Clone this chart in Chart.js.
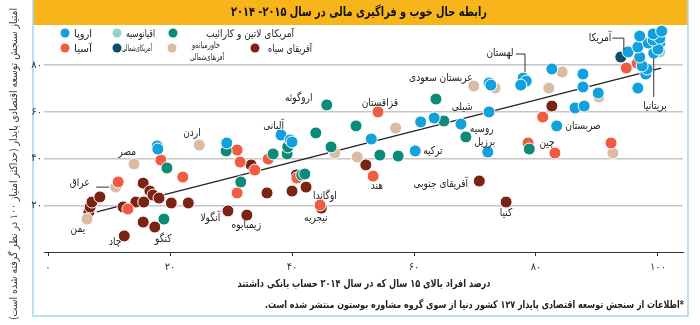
<!DOCTYPE html>
<html lang="fa">
<head>
<meta charset="utf-8">
<script src="https://cdn.jsdelivr.net/npm/chart.js@4"></script>
<style>
  body { margin: 0; background: #fff; }
  #wrap { width: 700px; height: 325px; }
</style>
</head>
<body>
<div id="wrap"><canvas id="chart" width="700" height="325"></canvas></div>
<script>
const FONT = "'DejaVu Sans', sans-serif";

// [درصد دارای حساب بانکی, امتیاز SEDA]
const europe = [
  [17.9, 45.4], [18.0, 44.1], [29.3, 46.7], [38.2, 50.1], [39.7, 48.0], [40.0, 47.1],
  [53.0, 48.4], [60.2, 43.3], [61.1, 55.7], [63.3, 57.4], [67.7, 54.8], [72.1, 42.8],
  [72.3, 60.0], [72.3, 72.4], [72.6, 71.5], [77.9, 74.5], [78.4, 73.2], [77.5, 71.5],
  [82.6, 78.4], [87.7, 76.2], [87.7, 70.7], [83.4, 54.0], [86.4, 61.7], [87.9, 62.5],
  [90.2, 68.1], [96.7, 70.2], [98.0, 76.2], [98.2, 78.4], [97.4, 79.7], [97.0, 83.5],
  [99.3, 85.2], [95.1, 85.7], [96.7, 87.8], [98.4, 89.5], [100.3, 89.5], [100.0, 86.9],
  [99.2, 90.8], [100.3, 91.6], [97.0, 92.5], [99.2, 93.4], [100.6, 94.6]
];
const oceania = [[99.5, 87.8], [100.3, 85.7]];
const northAmerica = [[93.9, 83.5]];
const latinAmerica = [
  [19.5, 36.0], [19.0, 14.1], [29.2, 43.3], [31.6, 30.0], [36.9, 42.0], [39.2, 42.0],
  [39.3, 45.0], [43.9, 51.0], [45.7, 63.0], [46.4, 45.0], [41.6, 33.0], [42.1, 33.4],
  [50.5, 54.0], [54.4, 41.5], [57.4, 41.1], [63.6, 65.5], [64.9, 56.1], [68.5, 49.3],
  [78.9, 44.1]
];
const asia = [
  [11.5, 30.0], [13.1, 18.4], [18.5, 39.4], [22.1, 32.1], [31.0, 43.7], [31.5, 38.5],
  [33.9, 35.1], [31.0, 25.3], [36.1, 39.8], [40.8, 31.7], [44.6, 20.1], [54.1, 60.0],
  [53.3, 32.5], [81.1, 57.8], [78.7, 46.7], [83.1, 42.4], [92.3, 46.7], [94.8, 78.8],
  [96.6, 80.9]
];
const mena = [
  [6.4, 14.1], [11.1, 27.8], [14.1, 37.7], [24.8, 45.8], [47.0, 42.4], [50.7, 40.7],
  [57.0, 53.1], [69.8, 71.1], [73.3, 70.2], [82.1, 70.2], [84.3, 77.1], [90.3, 66.4],
  [92.6, 42.4]
];
const subSaharan = [
  [6.7, 17.1], [6.9, 19.3], [7.2, 21.4], [8.5, 23.6], [12.3, 19.3], [14.4, 21.4],
  [15.7, 21.4], [15.6, 29.5], [16.7, 26.1], [17.2, 24.4], [18.2, 23.1], [20.2, 21.0],
  [23.0, 21.0], [15.6, 12.8], [17.5, 10.7], [12.5, 6.9], [29.5, 17.6], [32.6, 15.8],
  [33.3, 37.3], [35.9, 25.3], [40.0, 26.1], [40.7, 33.0], [42.3, 27.8], [44.8, 18.8],
  [52.1, 37.3], [70.7, 30.4], [75.1, 21.4], [82.6, 62.5]
];

const trendX = [8, 100.5];
const trendY = [17.2, 78.8];

const xTicks = [0, 20, 40, 60, 80, 100];
const yTicks = [0, 20, 40, 60, 80];

// نام کشورها روی نمودار
const countryNames = [
  ['آمریکا', 90.5, 91.6], ['لهستان', 74.1, 85.2], ['عربستان سعودی', 64.4, 74.5],
  ['بریتانیا', 99.5, 62.5], ['شیلی', 67.9, 62.1], ['قزاقستان', 54.4, 63.8],
  ['اروگوئه', 41.1, 66.0], ['آلبانی', 37.0, 54.0], ['اردن', 23.6, 51.0],
  ['مصر', 13.0, 42.8], ['عراق', 5.2, 29.6], ['یمن', 4.9, 9.9], ['چاد', 11.0, 4.3],
  ['کنگو', 18.9, 5.6], ['آنگولا', 26.6, 14.6], ['زیمبابوه', 32.5, 11.6],
  ['نیجریه', 43.9, 14.6], ['اوگاندا', 45.4, 24.0], ['هند', 53.9, 28.3],
  ['ترکیه', 63.1, 43.3], ['روسیه', 71.1, 52.7], ['برزیل', 71.6, 47.1],
  ['صربستان', 87.7, 54.0], ['چین', 81.8, 46.7], ['آفریقای جنوبی', 64.4, 29.1],
  ['کنیا', 75.1, 16.7]
];
const leaders = [
  [[92.5, 91.6], [94.4, 91.6], [94.4, 86.5]],
  [[76.7, 84.8], [78.2, 84.8], [78.2, 77.1]],
  [[99.3, 83.1], [99.3, 66.4]],
  [[7.9, 27.8], [10.0, 27.8]]
];

const groups = [
  { label: 'اروپا', data: europe, color: '#12a1dd' },
  { label: 'اقیانوسیه', data: oceania, color: '#8fd4cd' },
  { label: 'آمریکای‌شمالی', data: northAmerica, color: '#0e4c69' },
  { label: 'آمریکای لاتین و کارائیب', data: latinAmerica, color: '#0e8b78' },
  { label: 'آسیا', data: asia, color: '#f15b40' },
  { label: 'خاورمیانه و آفریقای‌شمالی', data: mena, color: '#d9bca4' },
  { label: 'آفریقای سیاه', data: subSaharan, color: '#7b2414' }
];

const fa = n => String(n).replace(/\d/g, d => '۰۱۲۳۴۵۶۷۸۹'[d]);

// متن با عرض محدود (فشرده‌سازی افقی مثل فونت باریک مرجع)
function txt(ctx, s, x, y, size, align, weight, color, maxW) {
  ctx.font = (weight || 'normal') + ' ' + size + 'px ' + FONT;
  ctx.fillStyle = color || '#222';
  ctx.textAlign = align || 'center';
  ctx.textBaseline = 'middle';
  const w = maxW || ctx.measureText(s).width * 0.82;
  ctx.fillText(s, x, y, w);
}

const decor = {
  id: 'decor',
  beforeDraw(chart) {
    const ctx = chart.ctx;
    ctx.save();
    ctx.fillStyle = '#fff';
    ctx.fillRect(0, 0, 700, 325);
    ctx.fillStyle = '#f8b51b';
    ctx.fillRect(33, 0, 655, 25);
    ctx.strokeStyle = '#a6d6ec';
    ctx.lineWidth = 1.5;
    ctx.strokeRect(33, -2, 655, 318);
    ctx.direction = 'rtl';
    txt(ctx, 'رابطه حال خوب و فراگیری مالی در سال ۲۰۱۵- ۲۰۱۴', 359, 13, 13, 'center', 'bold', '#111', 256);
    ctx.restore();
  },
  afterDraw(chart) {
    const ctx = chart.ctx;
    const xs = chart.scales.x, ys = chart.scales.y;
    ctx.save();
    ctx.direction = 'rtl';

    // خطوط راهنما
    ctx.strokeStyle = '#333';
    ctx.lineWidth = 1;
    leaders.forEach(pts => {
      ctx.beginPath();
      pts.forEach((p, i) => {
        const px = xs.getPixelForValue(p[0]), py = ys.getPixelForValue(p[1]);
        if (i === 0) ctx.moveTo(px, py); else ctx.lineTo(px, py);
      });
      ctx.stroke();
    });

    countryNames.forEach(c => {
      txt(ctx, c[0], xs.getPixelForValue(c[1]), ys.getPixelForValue(c[2]), 11, 'center', 'normal', '#222');
    });

    // راهنما
    const legendItems = [
      [0, 65, 33, 92, 18], [1, 117, 33, 155, 29], [3, 173, 33, 294, 88],
      [4, 65, 48, 92, 18], [2, 117, 48, 152, 30], [6, 255, 48, 312, 44]
    ];
    legendItems.forEach(it => {
      const g = groups[it[0]];
      ctx.beginPath();
      ctx.arc(it[1], it[2], 4.5, 0, Math.PI * 2);
      ctx.fillStyle = g.color;
      ctx.fill();
      txt(ctx, g.label, it[3], it[2] + 1, it[4] > 29 && it[4] < 40 ? 9 : 10.5, 'right', 'normal', '#222', it[4]);
    });
    ctx.beginPath();
    ctx.arc(172, 48, 4.5, 0, Math.PI * 2);
    ctx.fillStyle = groups[5].color;
    ctx.fill();
    txt(ctx, 'خاورمیانه‌و', 220, 46, 9, 'right', 'normal', '#222', 28);
    txt(ctx, 'آفریقای‌شمالی', 224, 58, 9, 'right', 'normal', '#222', 34);

    // عنوان محورها و پانویس
    txt(ctx, 'درصد افراد بالای ۱۵ سال که در سال ۲۰۱۴ حساب بانکی داشتند', 364, 284, 11, 'center', 'bold', '#222', 253);
    txt(ctx, '*اطلاعات از سنجش توسعه اقتصادی پایدار ۱۲۷ کشور دنیا از سوی گروه مشاوره بوستون منتشر شده است.', 684, 305, 10.5, 'right', 'bold', '#222', 419);
    ctx.translate(14, 164);
    ctx.rotate(-Math.PI / 2);
    txt(ctx, 'امتیاز سنجش توسعه اقتصادی پایدار (حداکثر امتیاز ۱۰۰ در نظر گرفته شده است)', 0, 0, 10.5, 'center', 'normal', '#333', 312);
    ctx.restore();
  }
};

const datasets = groups.map(g => ({
  type: 'scatter',
  label: g.label,
  data: g.data.map(p => ({ x: p[0], y: p[1] })),
  backgroundColor: g.color,
  borderColor: '#fff',
  borderWidth: 1,
  pointRadius: 6,
  pointHoverRadius: 6,
  clip: false,
  order: 1
}));
datasets.push({
  type: 'line',
  label: 'trend',
  data: trendX.map((x, i) => ({ x: x, y: trendY[i] })),
  borderColor: '#222',
  borderWidth: 1.3,
  pointRadius: 0,
  fill: false,
  order: 10
});

new Chart(document.getElementById('chart'), {
  type: 'scatter',
  data: { datasets: datasets },
  options: {
    responsive: false,
    animation: false,
    layout: { padding: { left: 30, right: 17, top: 26, bottom: 53 } },
    plugins: { legend: { display: false }, tooltip: { enabled: false } },
    scales: {
      x: {
        type: 'linear',
        min: -0.66,
        max: 104.1,
        afterBuildTicks: s => { s.ticks = xTicks.map(v => ({ value: v })); },
        afterFit: s => { s.height = 20; },
        ticks: {
          autoSkip: false,
          maxRotation: 0,
          padding: 5,
          color: '#333',
          font: { size: 10, family: FONT },
          callback: v => fa(v)
        },
        grid: { drawOnChartArea: false, drawTicks: true, tickLength: 4, color: '#333' },
        border: { display: true, color: '#333', width: 1 }
      },
      y: {
        min: 0,
        max: 96.8,
        afterBuildTicks: s => { s.ticks = yTicks.map(v => ({ value: v })); },
        afterFit: s => { s.width = 14; },
        ticks: {
          padding: 2,
          color: '#333',
          font: { size: 10, family: FONT },
          callback: v => v === 0 ? '' : fa(v)
        },
        grid: {
          drawTicks: false,
          lineWidth: 1.5,
          color: c => c.tick && c.tick.value === 0 ? 'rgba(0,0,0,0)' : '#c6c6c6'
        },
        border: { display: false }
      }
    }
  },
  plugins: [decor]
});
</script>
</body>
</html>
